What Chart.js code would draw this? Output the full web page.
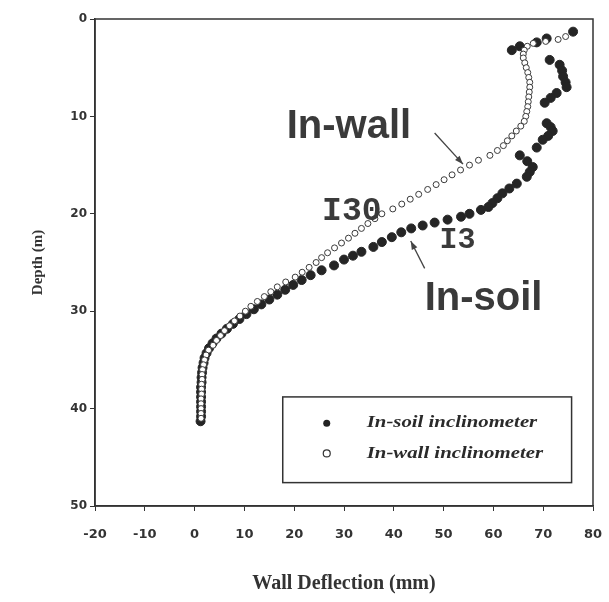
<!DOCTYPE html>
<html>
<head>
<meta charset="utf-8">
<title>Wall deflection vs depth</title>
<script src="https://cdn.jsdelivr.net/npm/chart.js@4.4.1/dist/chart.umd.min.js"></script>
<style>
    html, body { margin: 0; padding: 0; background: #ffffff; }
    #wrap { width: 609px; height: 602px; }
</style>
</head>
<body>
<div id="wrap"><canvas id="deflChart" width="609" height="602"></canvas></div>
<script>
// In-wall inclinometer readings (depth in m, deflection in mm)
const inWallDepth = [1.8, 2.1, 2.3, 2.5, 2.8, 3.2, 3.6, 4.0, 4.5, 5.0, 5.5, 6.0, 6.5, 7.0, 7.5, 8.0, 8.5, 9.0, 9.5, 10.0, 10.5,
    11.0, 11.5, 12.0, 12.5, 13.0, 13.5, 14.0, 14.5, 15.0, 15.5, 16.0, 16.5, 17.0, 17.5, 18.0, 18.5, 19.0, 19.5, 20.0, 20.5,
    21.0, 21.5, 22.0, 22.5, 23.0, 23.5, 24.0, 24.5, 25.0, 25.5, 26.0, 26.5, 27.0, 27.5, 28.0, 28.5, 29.0, 29.5, 30.0, 30.5,
    31.0, 31.5, 32.0, 32.5, 33.0, 33.5, 34.0, 34.5, 35.0, 35.5, 36.0, 36.5, 37.0, 37.5, 38.0, 38.5, 39.0, 39.5, 40.0, 40.5, 41.0];
const inWallDefl = [74.5, 73, 70.5, 68, 66.8, 66.2, 66, 66, 66.3, 66.6, 66.9, 67.1, 67.3, 67.3, 67.2, 67.1, 67, 66.9, 66.7, 66.5, 66.2,
    65.5, 64.6, 63.7, 62.8, 62, 60.8, 59.3, 57, 55.2, 53.4, 51.7, 50.1, 48.5, 46.8, 45, 43.3, 41.6, 39.8, 37.6, 36.2,
    34.8, 33.5, 32.2, 30.9, 29.5, 28.1, 26.7, 25.5, 24.4, 23, 21.6, 20.2, 18.3, 16.6, 15.3, 14, 12.6, 11.3, 10.2, 9.1,
    8, 7, 6, 5.2, 4.4, 3.7, 2.8, 2.3, 2, 1.8, 1.6, 1.5, 1.5, 1.4, 1.4, 1.4, 1.3, 1.3, 1.3, 1.3, 1.3];

// In-soil inclinometer readings
const inSoilDepth = [1.3, 2.0, 2.4, 2.8, 3.2, 4.2, 4.7, 5.3, 5.9, 6.5, 7.0, 7.6, 8.1, 8.6,
    10.7, 11.1, 11.5, 12.0, 12.4, 13.2, 14.0, 14.6, 15.2, 15.7, 16.2, 16.9, 17.4, 17.9, 18.4, 18.9,
    19.3, 19.6, 20.0, 20.3, 20.6, 20.9, 21.2, 21.5, 21.9, 22.4, 22.9, 23.4, 23.9, 24.3, 24.7,
    25.3, 25.8, 26.3, 26.8, 27.3, 27.8, 28.3, 28.8, 29.3, 29.8, 30.3, 30.8, 31.3, 31.8, 32.3, 32.8, 33.3,
    33.8, 34.3, 34.8, 35.3, 35.8, 36.3, 36.8, 37.3, 37.8, 38.3, 38.8, 39.3, 39.8, 40.3, 40.8, 41.3];
const inSoilDefl = [76, 70.7, 68.7, 65.3, 63.7, 71.3, 73.3, 73.8, 74, 74.5, 74.7, 72.7, 71.5, 70.3,
    70.7, 71.5, 71.9, 71, 69.9, 68.7, 65.3, 66.8, 67.9, 67.3, 66.7, 64.7, 63.2, 61.8, 60.8, 59.8,
    59, 57.5, 55.2, 53.5, 50.8, 48.2, 45.8, 43.5, 41.5, 39.6, 37.6, 35.9, 33.5, 31.8, 30,
    28, 25.5, 23.3, 21.5, 19.8, 18.2, 16.6, 15, 13.4, 11.9, 10.4, 9, 7.7, 6.5, 5.4, 4.4, 3.6,
    2.9, 2.4, 2, 1.8, 1.6, 1.5, 1.4, 1.4, 1.3, 1.3, 1.3, 1.3, 1.3, 1.3, 1.3, 1.2];

// Axis ranges
const xRange = [-20, 80];
const yRange = [0, 50];
const tickStep = 10;

const seriesNames = ['In-soil inclinometer', 'In-wall inclinometer'];

function toPoints(defl, depth) {
    return defl.map((v, i) => ({ x: v, y: depth[i] }));
}

// Draws frame, annotations and the boxed legend
const decorations = {
    id: 'decorations',
    afterDatasetsDraw(chart) {
        const { ctx, chartArea: a, scales: { x, y } } = chart;
        const px = v => x.getPixelForValue(v);
        const py = v => y.getPixelForValue(v);
        ctx.save();

        // frame around the plot
        ctx.strokeStyle = '#333';
        ctx.lineWidth = 1.5;
        ctx.strokeRect(a.left, a.top, a.right - a.left, a.bottom - a.top);

        // annotation text
        ctx.fillStyle = '#3a3a3a';
        ctx.textBaseline = 'alphabetic';
        ctx.textAlign = 'left';
        ctx.font = 'bold 40px "Liberation Sans", Arial, sans-serif';
        ctx.fillText('In-wall', px(18.5), py(12.2));
        ctx.fillText('In-soil', px(46.2), py(29.9));
        ctx.font = 'bold 33px "Liberation Mono", "Courier New", monospace';
        ctx.fillText('I30', px(25.6), py(20.6));
        ctx.font = 'bold 30px "Liberation Mono", "Courier New", monospace';
        ctx.fillText('I3', px(49.2), py(23.5));

        // arrows
        function arrow(x0, d0, x1, d1) {
            const sx = px(x0), sy = py(d0), ex = px(x1), ey = py(d1);
            const ang = Math.atan2(ey - sy, ex - sx);
            ctx.strokeStyle = '#444';
            ctx.lineWidth = 1.3;
            ctx.beginPath();
            ctx.moveTo(sx, sy);
            ctx.lineTo(ex, ey);
            ctx.stroke();
            ctx.beginPath();
            ctx.moveTo(ex, ey);
            ctx.lineTo(ex - 9 * Math.cos(ang - 0.35), ey - 9 * Math.sin(ang - 0.35));
            ctx.lineTo(ex - 9 * Math.cos(ang + 0.35), ey - 9 * Math.sin(ang + 0.35));
            ctx.closePath();
            ctx.fillStyle = '#444';
            ctx.fill();
        }
        arrow(48.2, 11.7, 53.9, 14.9);
        arrow(46.2, 25.6, 43.4, 22.8);

        // legend box
        const lx0 = px(17.7), lx1 = px(75.7), ly0 = py(38.8), ly1 = py(47.6);
        ctx.strokeStyle = '#333';
        ctx.lineWidth = 1.5;
        ctx.strokeRect(lx0, ly0, lx1 - lx0, ly1 - ly0);
        const rows = [py(41.5), py(44.6)];
        ctx.font = 'italic bold 16px "Liberation Serif", "Times New Roman", serif';
        ctx.textBaseline = 'middle';
        rows.forEach((ry, i) => {
            ctx.beginPath();
            ctx.arc(lx0 + 44, ry, 3.5, 0, Math.PI * 2);
            if (i === 0) {
                ctx.fillStyle = '#222';
                ctx.fill();
            } else {
                ctx.fillStyle = '#fff';
                ctx.fill();
                ctx.lineWidth = 1.2;
                ctx.strokeStyle = '#333';
                ctx.stroke();
            }
            ctx.save();
            ctx.translate(lx0 + 84, ry);
            ctx.scale(1.3, 1);
            ctx.fillStyle = '#2a2a2a';
            ctx.fillText(seriesNames[i], 0, 0);
            ctx.restore();
        });
        ctx.restore();
    }
};

const ctx = document.getElementById('deflChart').getContext('2d');
const deflChart = new Chart(ctx, {
    type: 'scatter',
    data: {
        datasets: [
            {
                label: seriesNames[1],
                data: toPoints(inWallDefl, inWallDepth),
                pointRadius: 3,
                pointBackgroundColor: '#ffffff',
                pointBorderColor: '#3a3a3a',
                pointBorderWidth: 1,
                order: 0
            },
            {
                label: seriesNames[0],
                data: toPoints(inSoilDefl, inSoilDepth),
                pointRadius: 4.5,
                pointBackgroundColor: '#252525',
                pointBorderColor: '#252525',
                pointBorderWidth: 1,
                order: 1
            }
        ]
    },
    options: {
        responsive: false,
        animation: false,
        layout: { padding: { top: 19, right: 16, left: 0, bottom: 0 } },
        plugins: {
            legend: { display: false },
            tooltip: { enabled: false }
        },
        scales: {
            x: {
                type: 'linear',
                min: xRange[0],
                max: xRange[1],
                ticks: {
                    stepSize: tickStep,
                    color: '#333',
                    padding: 16,
                    font: { family: '"DejaVu Sans", sans-serif', size: 13, weight: 'bold' }
                },
                grid: { display: true, drawOnChartArea: false, tickLength: 5, color: '#333' },
                border: { display: true, color: '#333', width: 1.5 },
                title: {
                    display: true,
                    text: 'Wall Deflection (mm)',
                    color: '#333',
                    padding: { top: 0, bottom: 6 },
                    font: { family: '"Liberation Serif", serif', size: 20, weight: 'bold' }
                },
                afterFit(scale) {
                    scale.height = 96;
                    scale.paddingLeft = 0;
                    scale.paddingRight = 0;
                }
            },
            y: {
                type: 'linear',
                reverse: true,
                min: yRange[0],
                max: yRange[1],
                ticks: {
                    stepSize: tickStep,
                    color: '#333',
                    padding: 3,
                    font: { family: '"DejaVu Sans", sans-serif', size: 12, weight: 'bold' }
                },
                grid: { display: true, drawOnChartArea: false, tickLength: 5, color: '#333' },
                border: { display: true, color: '#333', width: 1.5 },
                title: {
                    display: true,
                    text: 'Depth (m)',
                    color: '#333',
                    padding: { top: 29, bottom: 0 },
                    font: { family: '"Liberation Serif", serif', size: 15, weight: 'bold' }
                },
                afterFit(scale) {
                    scale.width = 95;
                    scale.paddingTop = 0;
                    scale.paddingBottom = 0;
                }
            }
        }
    },
    plugins: [decorations]
});
</script>
</body>
</html>
